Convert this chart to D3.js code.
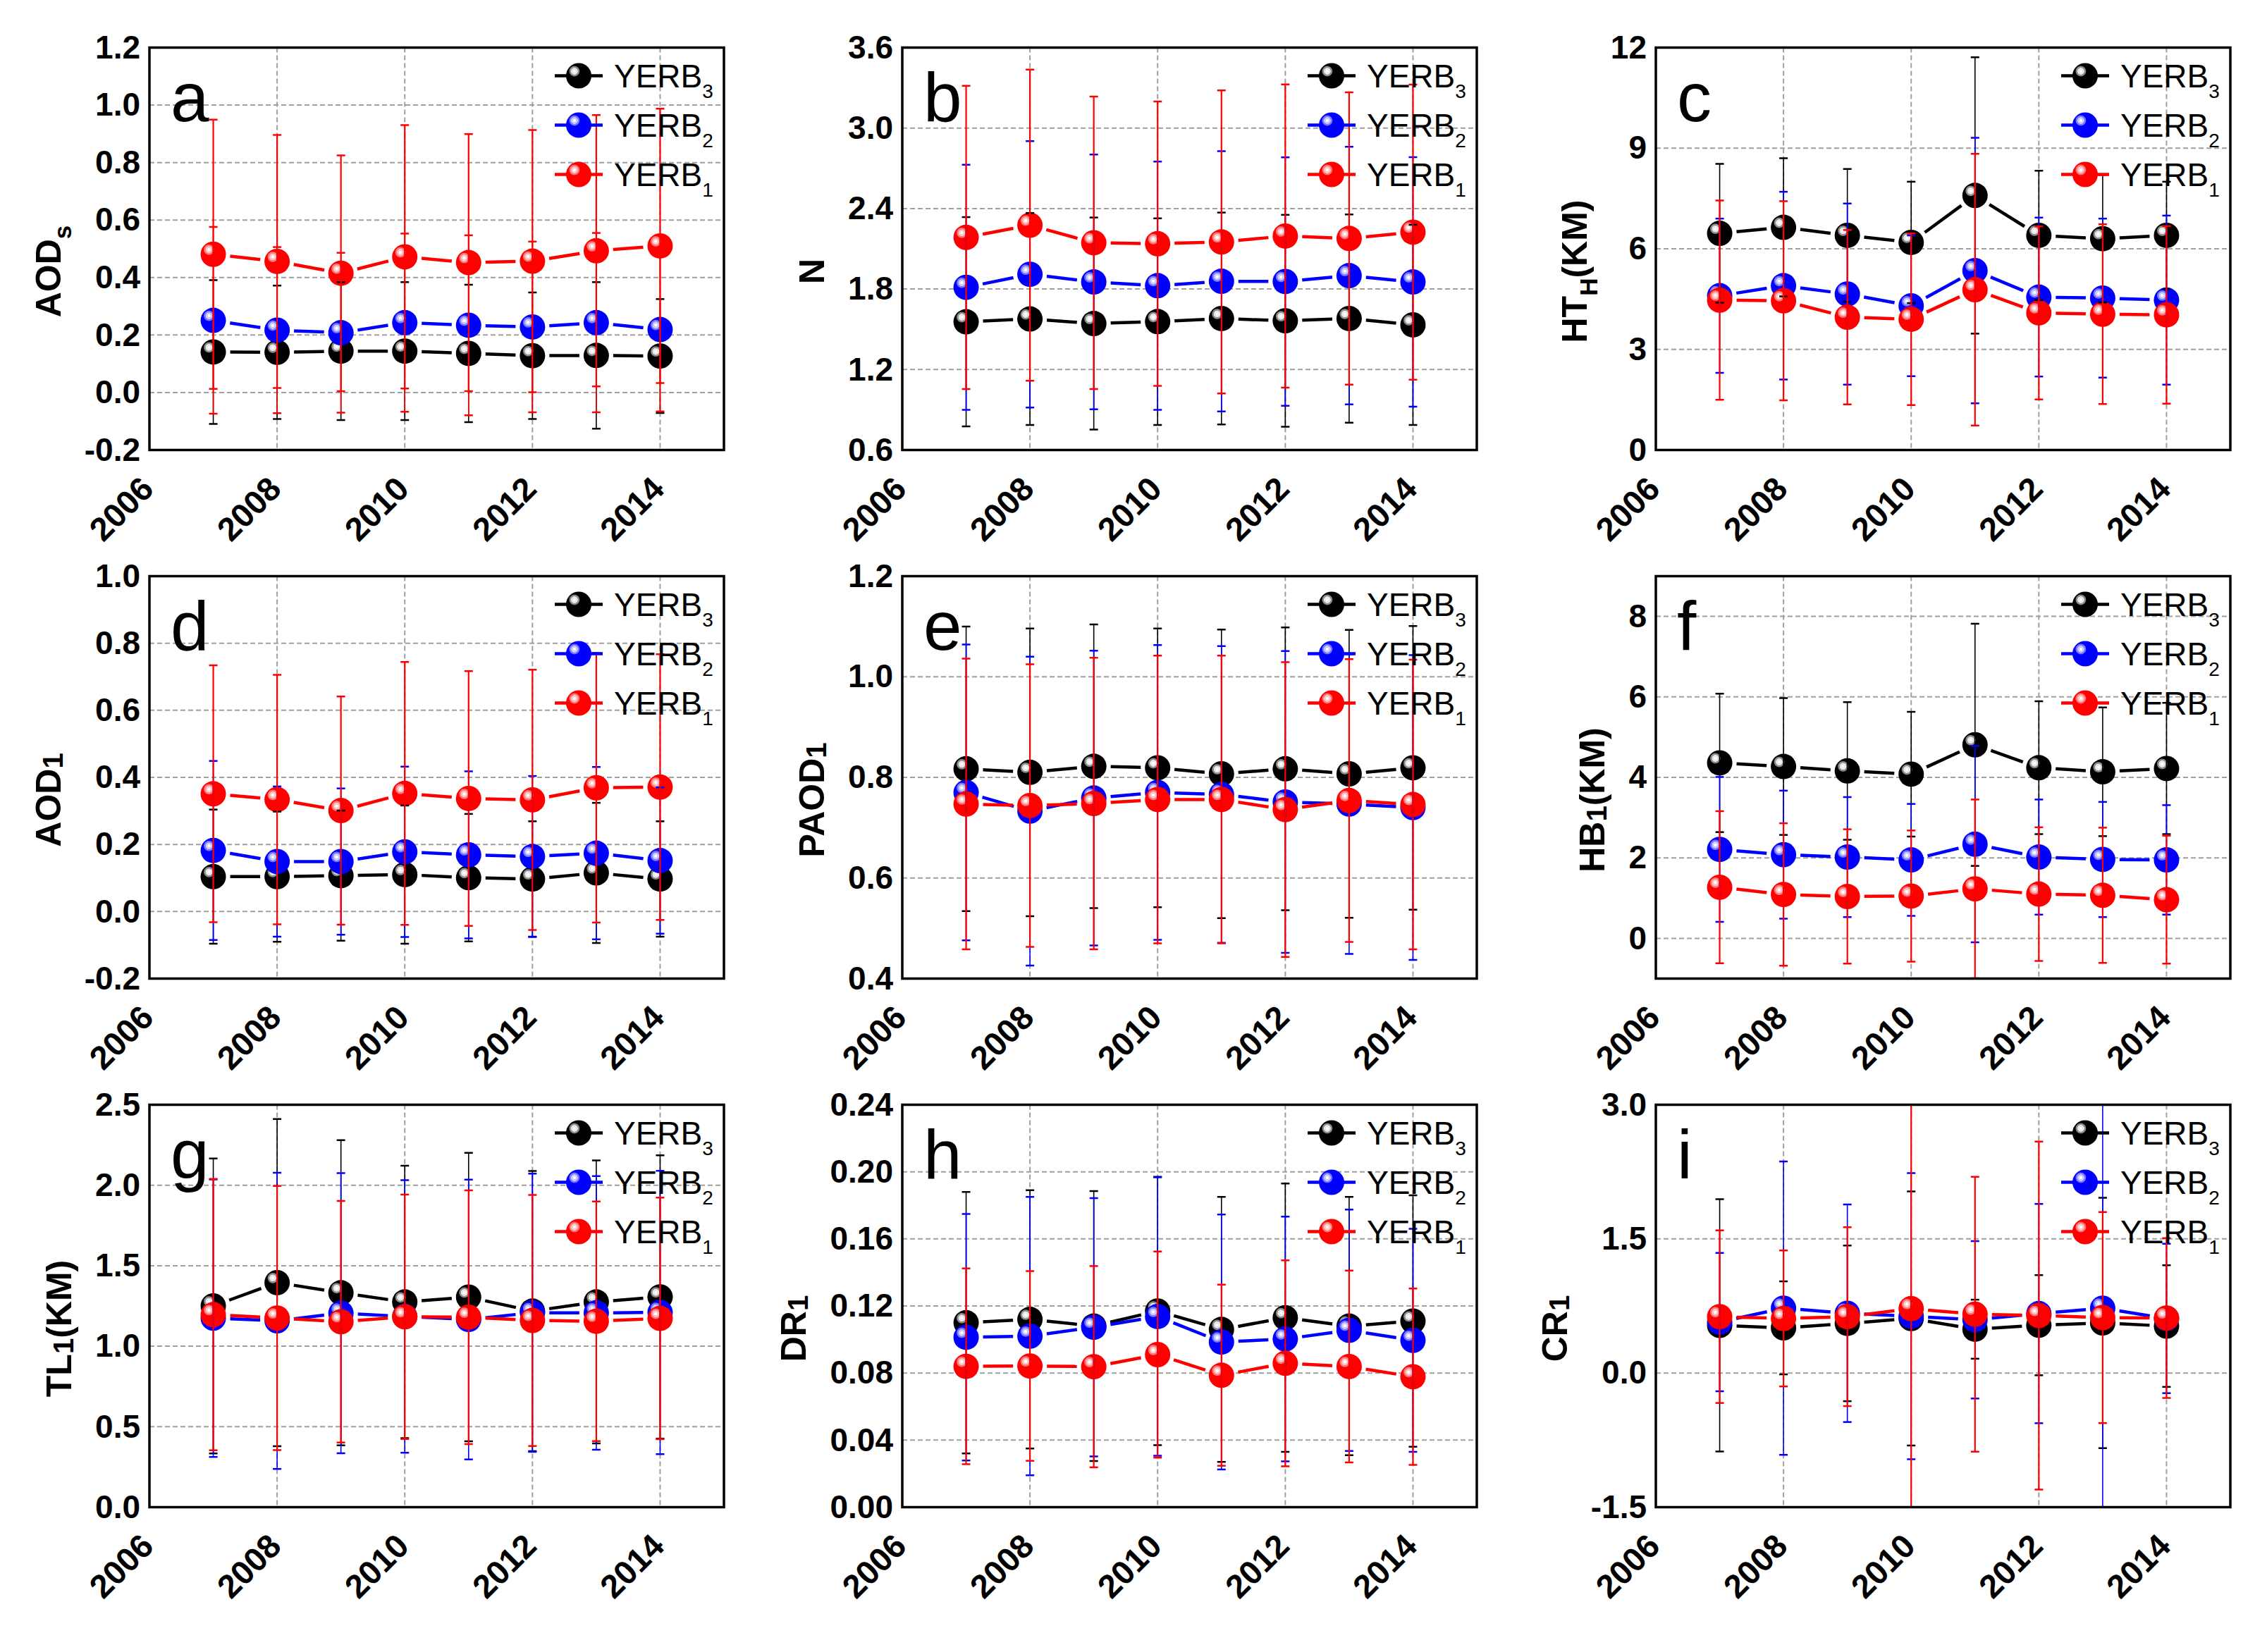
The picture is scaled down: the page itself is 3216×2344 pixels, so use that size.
<!DOCTYPE html>
<html>
<head>
<meta charset="utf-8">
<script src="https://cdn.jsdelivr.net/npm/d3@7"></script>
<style>
  body { margin: 0; background: #fff; }
  svg { display: block; }
</style>
</head>
<body>
<svg id="chart" width="3216" height="2344"></svg>
<script>
`use strict`;

// ---- data (series order: YERB3, YERB2, YERB1) ----
const years = [2007, 2008, 2009, 2010, 2011, 2012, 2013, 2014];
const xTicks = [2006, 2008, 2010, 2012, 2014];
const seriesSub = [`3`, `2`, `1`];
const colors = [`#000000`, `#0000ff`, `#ff0000`];
const ringLight = [`#e6e6e6`, `#c8c8ff`, `#ffc4c4`];
const ringMid = [`#8c8c8c`, `#7a7aff`, `#ff7a7a`];
const letters = [`a`, `b`, `c`, `d`, `e`, `f`, `g`, `h`, `i`];

// a: AODs
const aodsMean = [
  [0.141, 0.140, 0.144, 0.144, 0.136, 0.128, 0.129, 0.127],
  [0.251, 0.217, 0.208, 0.243, 0.234, 0.228, 0.243, 0.219],
  [0.481, 0.456, 0.415, 0.472, 0.452, 0.457, 0.493, 0.510]];
const aodsSd = [
  [0.250, 0.232, 0.240, 0.240, 0.239, 0.220, 0.255, 0.198],
  [0.325, 0.289, 0.278, 0.310, 0.313, 0.297, 0.312, 0.285],
  [0.468, 0.440, 0.410, 0.458, 0.447, 0.456, 0.472, 0.477]];
const aodsTicks = [-0.2, 0, 0.2, 0.4, 0.6, 0.8, 1.0, 1.2];

// b: N
const nMean = [
  [1.556, 1.577, 1.543, 1.557, 1.580, 1.563, 1.580, 1.533],
  [1.813, 1.910, 1.853, 1.825, 1.858, 1.856, 1.900, 1.853],
  [2.185, 2.276, 2.145, 2.138, 2.151, 2.195, 2.177, 2.224]];
const nSd = [
  [0.780, 0.790, 0.790, 0.770, 0.790, 0.790, 0.776, 0.746],
  [0.913, 0.993, 0.950, 0.925, 0.970, 0.926, 0.960, 0.930],
  [1.130, 1.160, 1.090, 1.060, 1.130, 1.130, 1.090, 1.100]];
const nTicks = [0.6, 1.2, 1.8, 2.4, 3.0, 3.6];

// c: HT_H (KM)
const hthMean = [
  [6.46, 6.64, 6.40, 6.19, 7.59, 6.40, 6.30, 6.40],
  [4.60, 4.90, 4.65, 4.30, 5.35, 4.56, 4.53, 4.47],
  [4.47, 4.45, 3.96, 3.90, 4.78, 4.09, 4.05, 4.03]];
const hthSd = [
  [2.07, 2.06, 1.98, 1.81, 4.12, 1.93, 1.90, 1.60],
  [2.30, 2.80, 2.70, 2.10, 3.96, 2.37, 2.37, 2.52],
  [2.97, 2.97, 2.60, 2.56, 4.05, 2.58, 2.68, 2.65]];
const hthTicks = [0, 3, 6, 9, 12];

// d: AOD1
const aod1Mean = [
  [0.104, 0.104, 0.107, 0.110, 0.101, 0.097, 0.115, 0.097],
  [0.182, 0.149, 0.149, 0.178, 0.169, 0.164, 0.174, 0.152],
  [0.351, 0.334, 0.301, 0.352, 0.337, 0.333, 0.369, 0.371]];
const aod1Sd = [
  [0.200, 0.194, 0.194, 0.206, 0.190, 0.172, 0.209, 0.172],
  [0.267, 0.224, 0.218, 0.254, 0.249, 0.240, 0.257, 0.218],
  [0.383, 0.372, 0.340, 0.392, 0.380, 0.388, 0.402, 0.396]];
const aod1Ticks = [-0.2, 0, 0.2, 0.4, 0.6, 0.8, 1.0];

// e: PAOD1
const paodMean = [
  [0.817, 0.810, 0.822, 0.819, 0.807, 0.817, 0.807, 0.819],
  [0.770, 0.733, 0.759, 0.770, 0.766, 0.751, 0.747, 0.740],
  [0.747, 0.744, 0.748, 0.756, 0.756, 0.736, 0.754, 0.746]];
const paodSd = [
  [0.283, 0.286, 0.282, 0.277, 0.287, 0.281, 0.286, 0.282],
  [0.294, 0.307, 0.293, 0.293, 0.295, 0.300, 0.298, 0.303],
  [0.289, 0.281, 0.290, 0.286, 0.286, 0.293, 0.281, 0.288]];
const paodTicks = [0.4, 0.6, 0.8, 1.0, 1.2];

// f: HB1 (KM)
const hbMean = [
  [4.36, 4.27, 4.16, 4.08, 4.81, 4.24, 4.14, 4.22],
  [2.21, 2.08, 2.02, 1.95, 2.34, 2.02, 1.96, 1.95],
  [1.27, 1.09, 1.04, 1.05, 1.23, 1.10, 1.07, 0.96]];
const hbSd = [
  [1.72, 1.70, 1.71, 1.55, 3.01, 1.65, 1.60, 1.63],
  [1.80, 1.59, 1.49, 1.39, 2.44, 1.43, 1.43, 1.36],
  [1.89, 1.77, 1.67, 1.63, 2.22, 1.66, 1.68, 1.59]];
const hbTicks = [0, 2, 4, 6, 8];

// g: TL1 (KM)
const tlMean = [
  [1.250, 1.395, 1.332, 1.275, 1.305, 1.218, 1.275, 1.306],
  [1.174, 1.158, 1.205, 1.185, 1.166, 1.208, 1.207, 1.210],
  [1.196, 1.175, 1.152, 1.183, 1.180, 1.160, 1.155, 1.173]];
const tlSd = [
  [0.916, 1.016, 0.948, 0.846, 0.896, 0.870, 0.879, 0.880],
  [0.862, 0.920, 0.870, 0.847, 0.869, 0.864, 0.850, 0.880],
  [0.843, 0.820, 0.750, 0.759, 0.788, 0.780, 0.744, 0.750]];
const tlTicks = [0, 0.5, 1.0, 1.5, 2.0, 2.5];

// h: DR1
const drMean = [
  [0.1100, 0.1120, 0.1080, 0.1170, 0.1060, 0.1130, 0.1080, 0.1110],
  [0.1013, 0.1020, 0.1073, 0.1137, 0.0985, 0.1003, 0.1055, 0.0995],
  [0.0840, 0.0842, 0.0838, 0.0910, 0.0787, 0.0858, 0.0839, 0.0778]];
const drSd = [
  [0.0780, 0.0770, 0.0805, 0.0800, 0.0790, 0.0800, 0.0770, 0.0750],
  [0.0735, 0.0830, 0.0770, 0.0830, 0.0760, 0.0730, 0.0720, 0.0665],
  [0.0584, 0.0566, 0.0600, 0.0615, 0.0540, 0.0614, 0.0572, 0.0526]];
const drTicks = [0, 0.04, 0.08, 0.12, 0.16, 0.20, 0.24];

// i: CR1
const crMean = [
  [0.533, 0.505, 0.555, 0.610, 0.490, 0.535, 0.560, 0.525],
  [0.570, 0.725, 0.668, 0.635, 0.595, 0.665, 0.725, 0.610],
  [0.630, 0.610, 0.630, 0.720, 0.658, 0.643, 0.620, 0.615]];
const crSd = [
  [1.410, 0.520, 0.870, 1.420, 0.330, 0.560, 1.400, 0.680],
  [0.774, 1.640, 1.216, 1.600, 0.880, 1.226, 2.400, 0.835],
  [0.965, 0.760, 1.000, 2.500, 1.537, 1.945, 1.180, 0.894]];
const crTicks = [-1.5, 0, 1.5, 3.0];

// axis titles: [text, kind]
const aodsTitle = [[`AOD`, `n`], [`s`, `sub`]];
const nTitle = [[`N`, `n`]];
const hthTitle = [[`HT`, `n`], [`H`, `sub`], [`(KM)`, `n`]];
const aod1Title = [[`AOD`, `n`], [`1`, `idx`]];
const paodTitle = [[`PAOD`, `n`], [`1`, `idx`]];
const hbTitle = [[`HB`, `n`], [`1`, `idx`], [`(KM)`, `n`]];
const tlTitle = [[`TL`, `n`], [`1`, `idx`], [`(KM)`, `n`]];
const drTitle = [[`DR`, `n`], [`1`, `idx`]];
const crTitle = [[`CR`, `n`], [`1`, `idx`]];

const panels = [
  {title: aodsTitle, mean: aodsMean, sd: aodsSd, ticks: aodsTicks, domain: [-0.2, 1.2], digits: 1, err: [`#000000`, `#ff0000`, `#ff0000`]},
  {title: nTitle, mean: nMean, sd: nSd, ticks: nTicks, domain: [0.6, 3.6], digits: 1},
  {title: hthTitle, mean: hthMean, sd: hthSd, ticks: hthTicks, domain: [0, 12], digits: 0},
  {title: aod1Title, mean: aod1Mean, sd: aod1Sd, ticks: aod1Ticks, domain: [-0.2, 1.0], digits: 1},
  {title: paodTitle, mean: paodMean, sd: paodSd, ticks: paodTicks, domain: [0.4, 1.2], digits: 1},
  {title: hbTitle, mean: hbMean, sd: hbSd, ticks: hbTicks, domain: [-1, 9], digits: 0},
  {title: tlTitle, mean: tlMean, sd: tlSd, ticks: tlTicks, domain: [0, 2.5], digits: 1},
  {title: drTitle, mean: drMean, sd: drSd, ticks: drTicks, domain: [0, 0.24], digits: 2},
  {title: crTitle, mean: crMean, sd: crSd, ticks: crTicks, domain: [-1.5, 3.0], digits: 1}
];

// ---- layout ----
const FONT = `"Liberation Sans", Arial, Helvetica, sans-serif`;
const W = 815, H = 571;
const colX = [212, 1280, 2349];
const rowY = [67.5, 817.5, 1567.5];
const R = 18;

const svg = d3.select(`#chart`);
svg.append(`rect`).attr(`width`, 3216).attr(`height`, 2344).attr(`fill`, `#fff`);

const defs = svg.append(`defs`);

colors.forEach((c, i) => {
  const grad = defs.append(`radialGradient`).attr(`id`, `ball${i}`)
    .attr(`cx`, 0.33).attr(`cy`, 0.32).attr(`fx`, 0.33).attr(`fy`, 0.32).attr(`r`, 0.75);
  [[0, `#ffffff`], [0.07, `#ffffff`], [0.09, ringLight[i]], [0.17, ringLight[i]],
   [0.19, ringMid[i]], [0.25, ringMid[i]], [0.29, c], [1, c]]
    .forEach(s => grad.append(`stop`).attr(`offset`, s[0]).attr(`stop-color`, s[1]));
});

const titleKinds = {n: {size: 50, shift: 0}, sub: {size: 35, shift: 15}, idx: {size: 40, shift: 3}};

panels.forEach((p, k) => {

  const left = colX[k % 3], top = rowY[Math.floor(k / 3)];

  const g = svg.append(`g`).attr(`transform`, `translate(${left},${top})`);

  const x = d3.scaleLinear().domain([2006, 2015]).range([0, W]);
  const y = d3.scaleLinear().domain(p.domain).range([H, 0]);

  defs.append(`clipPath`).attr(`id`, `clip${k}`)
    .append(`rect`).attr(`width`, W).attr(`height`, H);

  // grid
  const grid = g.append(`g`)
    .attr(`stroke`, `#a0a0a0`)
    .attr(`stroke-width`, 2)
    .attr(`stroke-dasharray`, `7,4`);

  grid.selectAll(`line.h`).data(p.ticks.filter(t => t > p.domain[0] && t < p.domain[1]))
    .join(`line`)
    .attr(`x1`, 0).attr(`x2`, W)
    .attr(`y1`, d => y(d)).attr(`y2`, d => y(d));

  grid.selectAll(`line.v`).data(xTicks.filter(t => t > 2006))
    .join(`line`)
    .attr(`y1`, 0).attr(`y2`, H)
    .attr(`x1`, d => x(d)).attr(`x2`, d => x(d));

  const plot = g.append(`g`).attr(`clip-path`, `url(#clip${k})`);

  // lines (gapped at symbols) and ball symbols
  p.mean.forEach((vals, s) => {

    const pts = years.map((yr, j) => [x(yr), y(vals[j])]);

    const segs = d3.pairs(pts).map(([a, b]) => {
      const dx = b[0] - a[0], dy = b[1] - a[1], len = Math.hypot(dx, dy);
      const ux = dx / len, uy = dy / len, off = R + 6;
      return [a[0] + ux * off, a[1] + uy * off, b[0] - ux * off, b[1] - uy * off];
    });

    plot.append(`g`).selectAll(`line`).data(segs)
      .join(`line`)
      .attr(`x1`, d => d[0]).attr(`y1`, d => d[1])
      .attr(`x2`, d => d[2]).attr(`y2`, d => d[3])
      .attr(`stroke`, colors[s])
      .attr(`stroke-width`, 4.5);

    plot.append(`g`).selectAll(`circle`).data(pts)
      .join(`circle`)
      .attr(`cx`, d => d[0]).attr(`cy`, d => d[1])
      .attr(`r`, R)
      .attr(`fill`, `url(#ball${s})`);
  });

  // error bars
  p.mean.forEach((vals, s) => {

    const col = p.err ? p.err[s] : colors[s];

    const bars = years.map((yr, j) => ({x: x(yr), lo: y(vals[j] - p.sd[s][j]), hi: y(vals[j] + p.sd[s][j])}));

    const eg = plot.append(`g`).attr(`stroke`, col);

    eg.selectAll(`line.stem`).data(bars)
      .join(`line`)
      .attr(`x1`, d => d.x).attr(`x2`, d => d.x)
      .attr(`y1`, d => d.lo).attr(`y2`, d => d.hi)
      .attr(`stroke-width`, s === 2 ? 2.2 : 1.6);

    eg.selectAll(`line.cap`).data(bars.flatMap(d => [[d.x, d.lo], [d.x, d.hi]]))
      .join(`line`)
      .attr(`x1`, d => d[0] - 6).attr(`x2`, d => d[0] + 6)
      .attr(`y1`, d => d[1]).attr(`y2`, d => d[1])
      .attr(`stroke-width`, 2.5);
  });

  // frame
  g.append(`rect`)
    .attr(`width`, W).attr(`height`, H)
    .attr(`fill`, `none`)
    .attr(`stroke`, `#000`)
    .attr(`stroke-width`, 3.5);

  // axes
  const yAxis = g.append(`g`)
    .call(d3.axisLeft(y).tickValues(p.ticks).tickSize(0).tickPadding(13).tickFormat(d => d.toFixed(p.digits)));

  yAxis.attr(`font-family`, FONT).attr(`font-size`, 46).attr(`font-weight`, `bold`).attr(`color`, `#000`);
  yAxis.select(`.domain`).remove();

  const xAxis = g.append(`g`)
    .attr(`transform`, `translate(0,${H})`)
    .call(d3.axisBottom(x).tickValues(xTicks).tickSize(0).tickFormat(d3.format(`d`)));

  xAxis.attr(`font-family`, FONT).attr(`font-size`, 47).attr(`font-weight`, `bold`).attr(`color`, `#000`);
  xAxis.select(`.domain`).remove();
  xAxis.selectAll(`text`)
    .attr(`x`, 0).attr(`y`, 0).attr(`dy`, 0)
    .attr(`text-anchor`, `end`)
    .attr(`transform`, `translate(8,58) rotate(-45)`);

  // y title
  const bb = yAxis.node().getBBox();

  const title = g.append(`text`)
    .attr(`transform`, `translate(${bb.x - 34},${H / 2 + 32}) rotate(-90)`)
    .attr(`text-anchor`, `middle`)
    .attr(`font-family`, FONT)
    .attr(`font-weight`, `bold`)
    .attr(`fill`, `#000`);

  let shift = 0;
  p.title.forEach(([txt, kind]) => {
    const kd = titleKinds[kind];
    title.append(`tspan`)
      .attr(`font-size`, kd.size)
      .attr(`dy`, kd.shift - shift)
      .text(txt);
    shift = kd.shift;
  });

  // panel letter
  g.append(`text`)
    .attr(`x`, 30).attr(`y`, 104)
    .attr(`font-family`, FONT)
    .attr(`font-size`, 98)
    .attr(`fill`, `#000`)
    .text(letters[k]);

  // legend
  const leg = g.append(`g`).attr(`transform`, `translate(609,40)`);

  seriesSub.forEach((sub, s) => {

    const row = leg.append(`g`).attr(`transform`, `translate(0,${s * 70})`);

    row.append(`line`)
      .attr(`x1`, -34).attr(`x2`, 34)
      .attr(`stroke`, colors[s])
      .attr(`stroke-width`, 4.5);

    row.append(`circle`)
      .attr(`r`, R)
      .attr(`fill`, `url(#ball${s})`);

    const t = row.append(`text`)
      .attr(`x`, 50).attr(`y`, 16)
      .attr(`font-family`, FONT)
      .attr(`font-size`, 46)
      .attr(`fill`, `#000`);

    t.append(`tspan`).text(`YERB`);
    t.append(`tspan`).attr(`font-size`, 28).attr(`dy`, 15).text(sub);
  });
});
</script>
</body>
</html>
